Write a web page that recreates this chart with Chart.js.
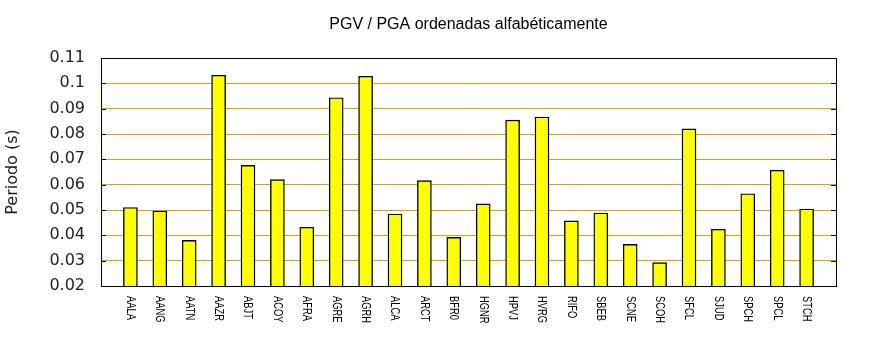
<!DOCTYPE html>
<html>
<head>
  <meta charset="UTF-8">
  <title>PGV / PGA ordenadas alfabéticamente</title>
  <script src="https://cdn.jsdelivr.net/npm/chart.js@4.4.1/dist/chart.umd.min.js"></script>
  <style>
    body {
      margin: 0;
      padding: 0;
      background-color: #ffffff;
    }
    #wrap {
      width: 870px;
      height: 350px;
    }
  </style>
</head>
<body>
  <div id="wrap"><canvas id="myChart" width="870" height="350"></canvas></div>

  <script>
    // Estaciones en orden alfabético y su periodo PGV/PGA (s)
    const stations = ['AALA', 'AANG', 'AATN', 'AAZR', 'ABJT', 'ACOY', 'AFRA', 'AGRE',
                      'AGRH', 'ALCA', 'ARCT', 'BFR0', 'HGNR', 'HPVJ', 'HVRG', 'RIFO',
                      'SBEB', 'SCNE', 'SCOH', 'SFCL', 'SJUD', 'SPCH', 'SPCL', 'STCH'];
    const periodo = [0.0510, 0.0496, 0.0380, 0.1032, 0.0676, 0.0620, 0.0432, 0.0943,
                     0.1028, 0.0484, 0.0616, 0.0392, 0.0524, 0.0855, 0.0867, 0.0457,
                     0.0488, 0.0364, 0.0292, 0.0820, 0.0424, 0.0564, 0.0657, 0.0504];
    const yTicks = [0.02, 0.03, 0.04, 0.05, 0.06, 0.07, 0.08, 0.09, 0.1, 0.11];

    const titleText = 'PGV / PGA ordenadas alfabéticamente';
    const yTitle = 'Periodo (s)';

    // un hueco vacío a cada lado, como en gnuplot (xrange [-1:24])
    const labels = [''].concat(stations, ['']);
    const values = [null].concat(periodo, [null]);

    // título, marco, marcas interiores y etiquetas verticales
    const decor = {
      id: 'decor',
      afterDraw(chart) {
        const ctx = chart.ctx;
        const a = chart.chartArea;
        const x = chart.scales.x;
        const y = chart.scales.y;
        ctx.save();

        ctx.fillStyle = '#000';
        ctx.font = '16px "Liberation Sans", Arial, sans-serif';
        ctx.textAlign = 'center';
        ctx.textBaseline = 'middle';
        ctx.fillText(titleText, (a.left + a.right) / 2, 25);

        ctx.save();
        ctx.fillStyle = '#222';
        ctx.font = '16px "DejaVu Sans", sans-serif';
        ctx.translate(13, 172);
        ctx.rotate(-Math.PI / 2);
        ctx.fillText(yTitle, 0, 0);
        ctx.restore();

        ctx.strokeStyle = '#000';
        ctx.lineWidth = 1;
        ctx.beginPath();
        yTicks.forEach(v => {
          const py = Math.round(y.getPixelForValue(v)) + 0.5;
          ctx.moveTo(a.left, py);
          ctx.lineTo(a.left + 5, py);
          ctx.moveTo(a.right - 5, py);
          ctx.lineTo(a.right, py);
        });
        ctx.stroke();
        ctx.strokeRect(Math.round(a.left) + 0.5, Math.round(a.top) + 0.5,
                       Math.round(a.right - a.left), Math.round(a.bottom - a.top));

        ctx.font = '13px "Liberation Sans", Arial, sans-serif';
        ctx.textAlign = 'left';
        ctx.textBaseline = 'middle';
        stations.forEach((s, i) => {
          const px = x.getPixelForValue(i + 1);
          ctx.save();
          ctx.translate(px, a.bottom + 10);
          ctx.rotate(Math.PI / 2);
          ctx.scale(0.72, 1);
          ctx.fillText(s, 0, 0);
          ctx.restore();
        });

        ctx.restore();
      }
    };

    new Chart(document.getElementById('myChart'), {
      type: 'bar',
      data: {
        labels: labels,
        datasets: [{
          data: values,
          backgroundColor: '#ffff00',
          borderColor: '#000000',
          borderWidth: 1.4,
          borderSkipped: false,
          barThickness: 14
        }]
      },
      options: {
        responsive: false,
        animation: false,
        layout: { padding: { top: 58, right: 34, left: 0, bottom: 0 } },
        plugins: {
          legend: { display: false },
          tooltip: { enabled: false },
          title: { display: false }
        },
        scales: {
          x: {
            offset: false,
            grid: { display: false, drawTicks: false },
            border: { display: false },
            ticks: { display: false },
            afterFit(scale) { scale.height = 64; }
          },
          y: {
            min: 0.02,
            max: 0.11,
            grid: { color: '#e0a000', lineWidth: 1, drawTicks: false },
            border: { display: false },
            afterBuildTicks(scale) { scale.ticks = yTicks.map(v => ({ value: v })); },
            ticks: {
              padding: 16,
              color: '#222',
              font: { family: '"DejaVu Sans", sans-serif', size: 16 },
              callback: v => String(+v.toFixed(2))
            },
            afterFit(scale) { scale.width = 101; }
          }
        }
      },
      plugins: [decor]
    });
  </script>
</body>
</html>
